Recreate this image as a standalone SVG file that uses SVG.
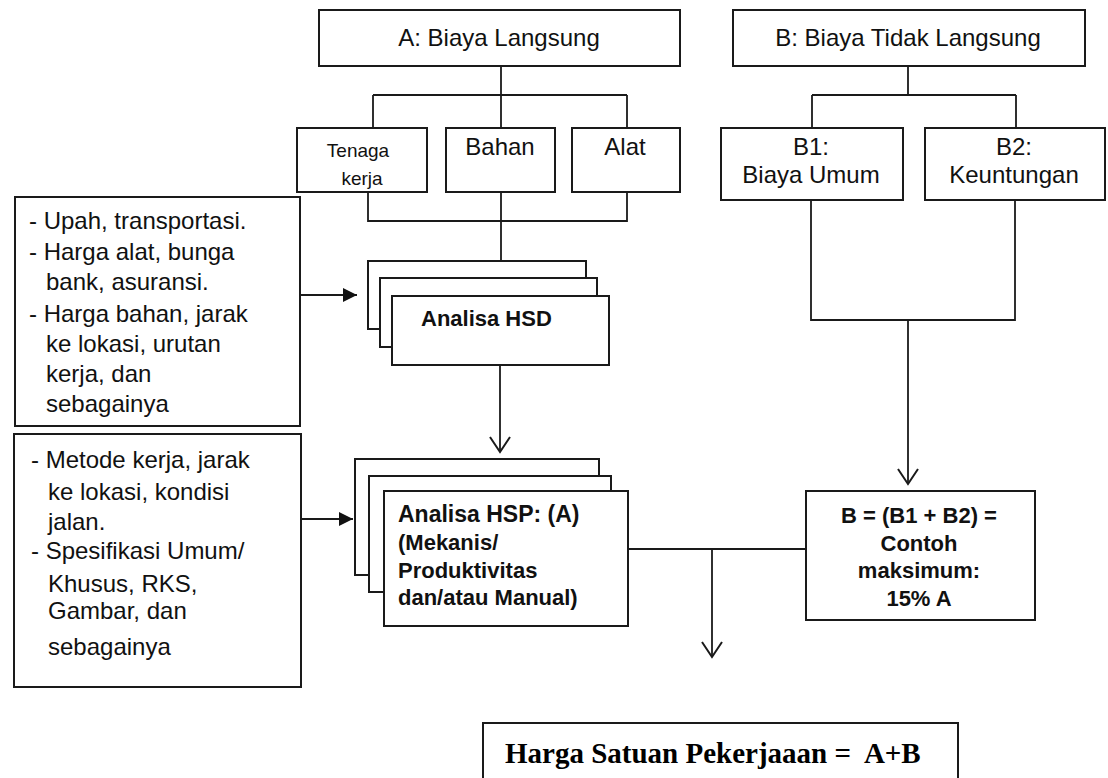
<svg xmlns="http://www.w3.org/2000/svg" width="1108" height="778" viewBox="0 0 1108 778">
<style>
.box{fill:#fff;stroke:#1a1a1a;stroke-width:2}
.ln{fill:none;stroke:#1a1a1a;stroke-width:1.8}
.t{font-family:"Liberation Sans",Arial,sans-serif;font-size:24px;fill:#111}
.c{text-anchor:middle}
.b{font-family:"Liberation Sans",Arial,sans-serif;font-weight:bold;font-size:22px;fill:#111}
.s{font-family:"Liberation Serif","Times New Roman",serif;font-weight:bold;font-size:29px;fill:#000;white-space:pre}
</style>
<defs>
<marker id="open" viewBox="-16 -11 18 22" refX="0" refY="0" markerWidth="18" markerHeight="22" markerUnits="userSpaceOnUse" orient="auto">
<path d="M-15,-10 L0,0 L-15,10" fill="none" stroke="#1a1a1a" stroke-width="2"/>
</marker>
<marker id="fill" viewBox="-15 -8 16 16" refX="0" refY="0" markerWidth="16" markerHeight="16" markerUnits="userSpaceOnUse" orient="auto">
<path d="M-14,-7 L0,0 L-14,7 Z" fill="#111"/>
</marker>
</defs>
<rect width="1108" height="778" fill="#fff"/>
<g id="connectors">
<path class="ln" d="M501,66 V95 M373,95 H627 M373,95 V128 M501,95 V128 M627,95 V128"/>
<path class="ln" d="M368,192 V221 H627 V192 M501,192 V261"/>
<path class="ln" d="M908,66 V95 M812,95 H1016 M812,95 V128 M1016,95 V128"/>
<path class="ln" d="M811,200 V320 H1015 V200"/>
<path class="ln" d="M908,320 V484" marker-end="url(#open)"/>
<path class="ln" d="M500,365 V452" marker-end="url(#open)"/>
<path class="ln" d="M628,549 H806"/>
<path class="ln" d="M712,549 V657" marker-end="url(#open)"/>
<path class="ln" d="M300,295 H357" marker-end="url(#fill)"/>
<path class="ln" d="M301,519 H353" marker-end="url(#fill)"/>
</g>
<g id="nodeA">
<rect class="box" x="319" y="10" width="361" height="56"/>
<text class="t c" x="499" y="46">A: Biaya Langsung</text>
</g>
<g id="nodeB">
<rect class="box" x="733" y="10" width="352" height="56"/>
<text class="t c" x="908" y="46">B: Biaya Tidak Langsung</text>
</g>
<g id="tenaga">
<rect class="box" x="297" y="128" width="130" height="64"/>
<text class="t c" style="font-size:19px" x="358" y="157">Tenaga</text>
<text class="t c" style="font-size:19px" x="362" y="185">kerja</text>
</g>
<g id="bahan">
<rect class="box" x="446" y="128" width="109" height="64"/>
<text class="t c" x="500" y="155">Bahan</text>
</g>
<g id="alat">
<rect class="box" x="572" y="128" width="108" height="64"/>
<text class="t c" x="625" y="155">Alat</text>
</g>
<g id="b1">
<rect class="box" x="721" y="128" width="182" height="72"/>
<text class="t c" x="811" y="155">B1:</text>
<text class="t c" x="811" y="183">Biaya Umum</text>
</g>
<g id="b2">
<rect class="box" x="925" y="128" width="180" height="72"/>
<text class="t c" x="1014" y="155">B2:</text>
<text class="t c" x="1014" y="183">Keuntungan</text>
</g>
<g id="input1">
<rect class="box" x="15" y="197" width="285" height="229"/>
<text class="t" x="29" y="229">- Upah, transportasi.</text>
<text class="t" x="29" y="260">- Harga alat, bunga</text>
<text class="t" x="46" y="290">bank, asuransi.</text>
<text class="t" x="29" y="322">- Harga bahan, jarak</text>
<text class="t" x="46" y="352">ke lokasi, urutan</text>
<text class="t" x="46" y="382">kerja, dan</text>
<text class="t" x="46" y="412">sebagainya</text>
</g>
<g id="input2">
<rect class="box" x="14" y="434" width="287" height="253"/>
<text class="t" x="31" y="468">- Metode kerja, jarak</text>
<text class="t" x="48" y="500">ke lokasi, kondisi</text>
<text class="t" x="48" y="530">jalan.</text>
<text class="t" x="31" y="559">- Spesifikasi Umum/</text>
<text class="t" x="48" y="592">Khusus, RKS,</text>
<text class="t" x="48" y="619">Gambar, dan</text>
<text class="t" x="48" y="655">sebagainya</text>
</g>
<g id="hsd">
<rect class="box" x="368" y="261" width="218" height="68"/>
<rect class="box" x="380" y="278" width="217" height="69"/>
<rect class="box" x="392" y="296" width="217" height="69"/>
<text class="b" x="421" y="326">Analisa HSD</text>
</g>
<g id="hsp">
<rect class="box" x="355" y="459" width="244" height="116"/>
<rect class="box" x="369" y="476" width="242" height="116"/>
<rect class="box" x="384" y="491" width="244" height="135"/>
<text class="b" style="font-size:23px" x="398" y="522">Analisa HSP: (A)</text>
<text class="b" x="398" y="550">(Mekanis/</text>
<text class="b" x="398" y="578">Produktivitas</text>
<text class="b" x="398" y="605">dan/atau Manual)</text>
</g>
<g id="nodeBsum">
<rect class="box" x="806" y="491" width="229" height="129"/>
<text class="b c" x="919" y="523">B = (B1 + B2) =</text>
<text class="b c" x="919" y="551">Contoh</text>
<text class="b c" x="919" y="578">maksimum:</text>
<text class="b c" x="919" y="606">15% A</text>
</g>
<g id="total">
<rect class="box" x="483" y="723" width="475" height="70"/>
<text class="s" x="505" y="763">Harga Satuan Pekerjaaan =  A+B</text>
</g>
</svg>
